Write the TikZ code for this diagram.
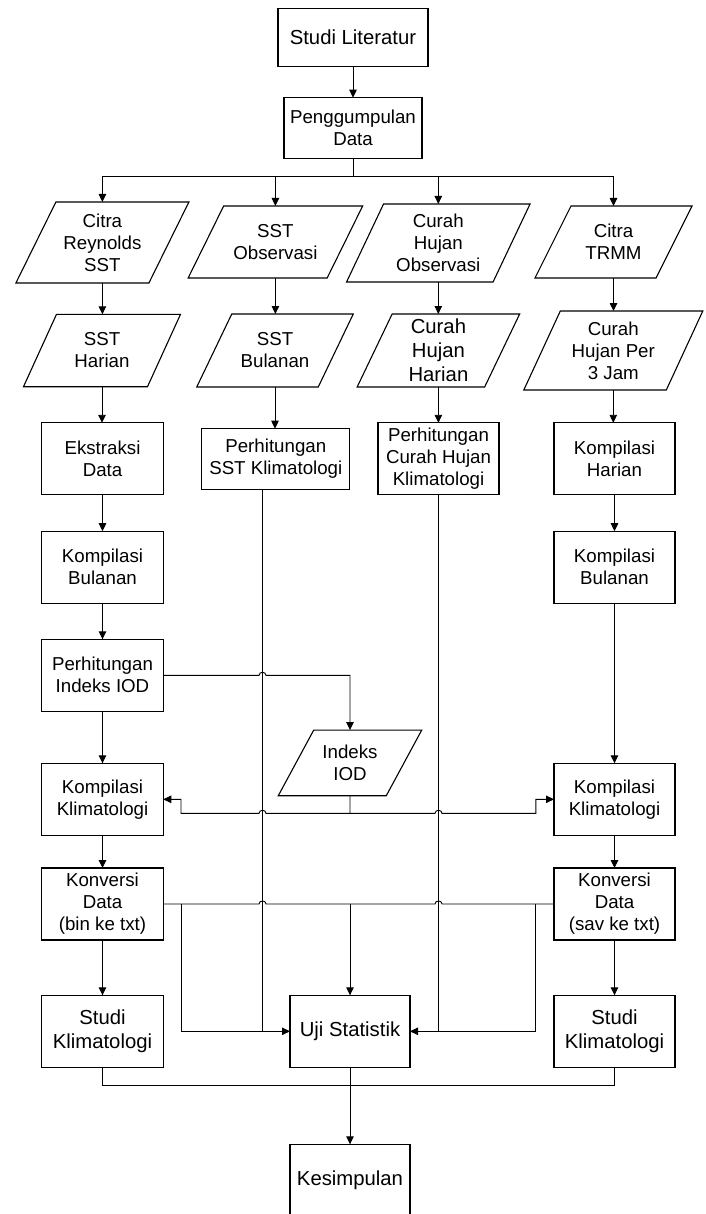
\documentclass[tikz,border=0pt]{standalone}
\usepackage{fontspec}
\setmainfont{Liberation Sans}
\usetikzlibrary{arrows.meta,calc}
\tikzset{
  txtn/.style={font=\fontsize{18.7}{22}\selectfont},
  txtb/.style={font=\fontsize{20.3}{24}\selectfont},
  box/.style={draw, line width=1.1pt, inner sep=0pt, outer sep=0pt, align=center,
    minimum width=121.5pt, minimum height=72pt, txtn},
  pnode/.style={inner sep=0pt, outer sep=0pt, align=center, txtn},
  boxline/.style={line width=1.1pt, line join=miter},
  conn/.style={line width=0.9pt},
  arr/.style={conn, -{Triangle[length=8pt,width=7.5pt]}},
}
\newcommand{\parashape}[2]{%
  \draw[boxline] ($(#1.south west)+(-#2/2,0)$) -- ($(#1.south east)+(-#2/2,0)$)
    -- ($(#1.north east)+(#2/2,0)$) -- ($(#1.north west)+(#2/2,0)$) -- cycle;}
\begin{document}
\begin{tikzpicture}[x=1pt,y=-1pt]
\useasboundingbox (0,0) rectangle (705,1214);

% top
\node[box, minimum width=150pt, minimum height=58pt, txtb] (studi) at (353,37.7) {Studi Literatur};
\node[box, minimum width=138pt, minimum height=60.6pt] (peng) at (353,128) {Penggumpulan\\Data};

% row 1 parallelograms
\node[pnode, minimum width=133pt, minimum height=81pt] (p1) at (102.4,242.5) {Citra\\Reynolds\\SST};
\parashape{p1}{40}
\node[pnode, minimum width=139pt, minimum height=72pt] (p2) at (275.4,242) {SST\\Observasi};
\parashape{p2}{35.5}
\node[pnode, minimum width=146.5pt, minimum height=78pt] (p3) at (438.3,243) {Curah\\Hujan\\Observasi};
\parashape{p3}{37}
\node[pnode, minimum width=121pt, minimum height=72pt] (p4) at (613.5,242) {Citra\\TRMM};
\parashape{p4}{36}

% row 2 parallelograms
\node[pnode, minimum width=124pt, minimum height=72.4pt] (q1) at (102,350.5) {SST\\Harian};
\parashape{q1}{33}
\node[pnode, minimum width=121.5pt, minimum height=73pt] (q2) at (275,350.5) {SST\\Bulanan};
\parashape{q2}{35}
\node[pnode, minimum width=127.5pt, minimum height=73pt, txtb] (q3) at (438.4,350.5) {Curah\\Hujan\\Harian};
\parashape{q3}{35}
\node[pnode, minimum width=142.5pt, minimum height=79pt] (q4) at (613.3,350.5) {Curah\\Hujan Per\\3 Jam};
\parashape{q4}{36.5}

% row 3
\node[box] (b1) at (102.5,458.8) {Ekstraksi\\Data};
\node[box, minimum width=148pt, minimum height=60.6pt] (b2) at (275.8,459) {Perhitungan\\SST Klimatologi};
\node[box, minimum width=121pt] (b3) at (438.5,458.8) {Perhitungan\\Curah Hujan\\Klimatologi};
\node[box, minimum width=121pt] (b4) at (614.5,458.8) {Kompilasi\\Harian};

% row 4
\node[box] (k1) at (102.5,567.2) {Kompilasi\\Bulanan};
\node[box, minimum width=121pt] (k4) at (614.5,567.2) {Kompilasi\\Bulanan};

% row 5
\node[box] (pii) at (102.5,675.3) {Perhitungan\\Indeks IOD};
\node[pnode, minimum width=108pt, minimum height=65.7pt] (iod) at (350,762.9) {Indeks\\IOD};
\parashape{iod}{35.5}

% row 6
\node[box] (kk1) at (102.5,799.3) {Kompilasi\\Klimatologi};
\node[box, minimum width=121pt] (kk4) at (614.5,799.3) {Kompilasi\\Klimatologi};

% row 7
\node[box] (kc1) at (102.5,904) {Konversi\\Data\\(bin ke txt)};
\node[box, minimum width=121pt] (kc4) at (614.5,904) {Konversi\\Data\\(sav ke txt)};

% row 8
\node[box, txtb] (sk1) at (102.5,1031.3) {Studi\\Klimatologi};
\node[box, minimum width=120pt, txtb] (uji) at (350,1031.3) {Uji Statistik};
\node[box, minimum width=121pt, txtb] (sk4) at (614.5,1031.3) {Studi\\Klimatologi};

% bottom
\node[box, minimum width=120pt, txtb] (kes) at (350,1180.3) {Kesimpulan};

% helper coordinates
\coordinate (br) at (0,176);
\coordinate (vL) at (262.5,0);
\coordinate (jl) at (181,0);
\coordinate (jr) at (535.8,0);
\coordinate (ym) at (0,813.3);
\coordinate (bm) at (0,1085.3);

% connectors top
\draw[arr] (studi.south) -- (studi.south |- peng.north);
\draw[conn] (peng.south) -- (peng.south |- br);
\draw[conn] (p1.north |- br) -- (p4.north |- br);
\foreach \n in {p1,p2,p3,p4} \draw[arr] (\n.north |- br) -- (\n.north);
\draw[arr] (p1.south) -- (p1.south |- q1.north);
\draw[arr] (p2.south) -- (p2.south |- q2.north);
\draw[arr] (p3.south) -- (p3.south |- q3.north);
\draw[arr] (p4.south) -- (p4.south |- q4.north);
\draw[arr] (q1.south) -- (q1.south |- b1.north);
\draw[arr] (q2.south) -- (q2.south |- b2.north);
\draw[arr] (q3.south) -- (q3.south |- b3.north);
\draw[arr] (q4.south) -- (q4.south |- b4.north);
\draw[arr] (b1.south) -- (k1.north);
\draw[arr] (b4.south) -- (k4.north);
\draw[arr] (k1.south) -- (pii.north);
\draw[arr] (k4.south) -- (kk4.north);
\draw[arr] (pii.south) -- (kk1.north);
\draw[arr] (kk1.south) -- (kc1.north);
\draw[arr] (kk4.south) -- (kc4.north);
\draw[arr] (kc1.south) -- (sk1.north);
\draw[arr] (kc4.south) -- (sk4.north);

% Perhitungan Indeks IOD -> Indeks IOD
\draw[arr] (pii.east) -- ($(vL |- pii.east)+(-3.5,0)$)
  .. controls +(0,-4) and +(0,-4) .. ($(vL |- pii.east)+(3.5,0)$)
  -- (iod.north |- pii.east) -- (iod.north);

% Indeks IOD -> Kompilasi Klimatologi (both)
\draw[arr] (iod.south) -- (iod.south |- ym) -- ($(vL |- ym)+(3.5,0)$)
  .. controls +(0,-4) and +(0,-4) .. ($(vL |- ym)+(-3.5,0)$)
  -- (jl |- ym) -- (jl |- kk1.east) -- (kk1.east);
\draw[arr] (iod.south |- ym) -- ($(b3.south |- ym)+(-3.5,0)$)
  .. controls +(0,-4) and +(0,-4) .. ($(b3.south |- ym)+(3.5,0)$)
  -- (jr |- ym) -- (jr |- kk4.west) -- (kk4.west);

% Konversi line
\draw[conn] (kc1.east) -- ($(vL |- kc1.east)+(-3.5,0)$)
  .. controls +(0,-4) and +(0,-4) .. ($(vL |- kc1.east)+(3.5,0)$)
  -- ($(b3.south |- kc1.east)+(-3.5,0)$)
  .. controls +(0,-4) and +(0,-4) .. ($(b3.south |- kc1.east)+(3.5,0)$)
  -- (kc4.west);
\draw[arr] (jl |- kc1.east) -- (jl |- uji.west) -- (uji.west);
\draw[arr] (uji.north |- kc1.east) -- (uji.north);
\draw[arr] (jr |- kc4.west) -- (jr |- uji.east) -- (uji.east);

% climatology lines into Uji Statistik
\draw[conn] (b2.south -| vL) -- (vL |- uji.west);
\draw[conn] (b3.south) -- (b3.south |- uji.east);

% bottom merge
\draw[conn] (sk1.south) -- (sk1.south |- bm) -- (sk4.south |- bm) -- (sk4.south);
\draw[arr] (uji.south) -- (kes.north);
\end{tikzpicture}
\end{document}
